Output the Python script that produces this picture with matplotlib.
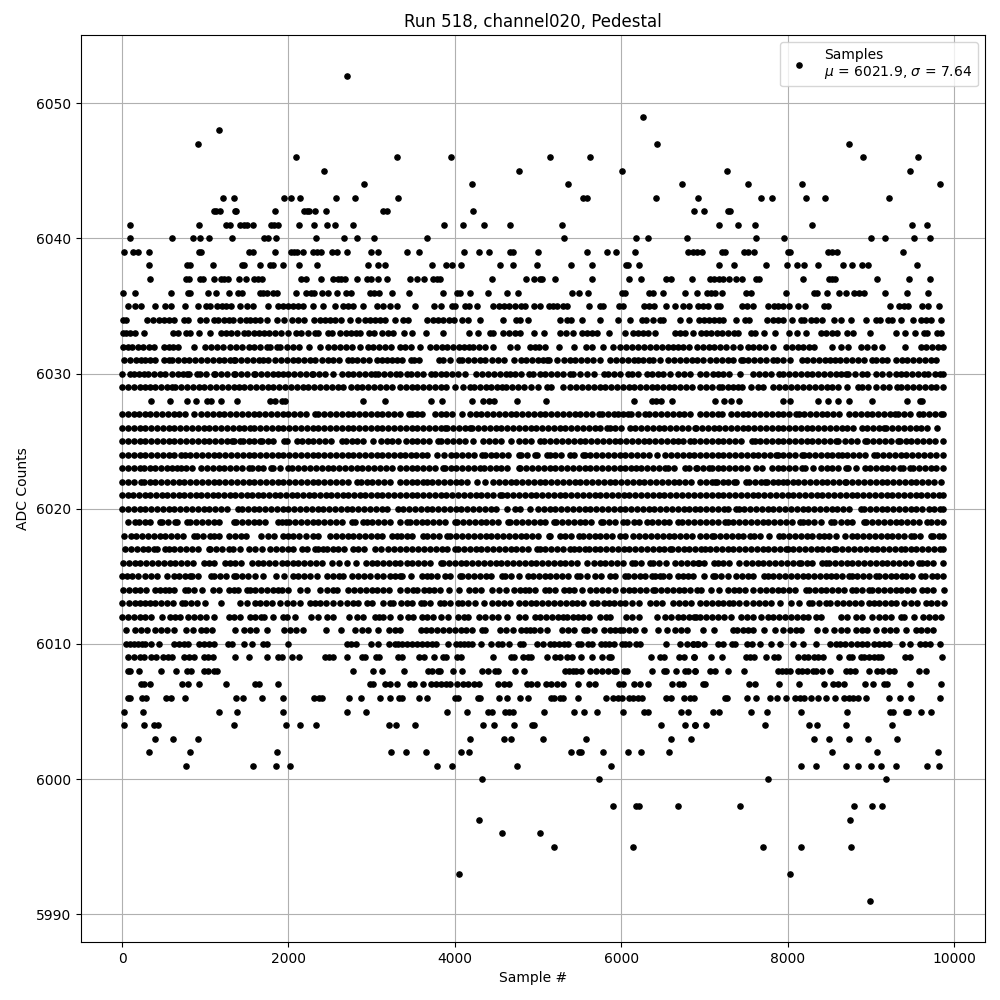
# Sample numbers are hand-read per ADC level from the reference. Dense rows cannot be
# resolved into individual samples, so they hold a representative subset of visible dots.
import numpy as np
import matplotlib
matplotlib.use("Agg")
import matplotlib.pyplot as plt

s6052=[2708]
s6049=[6268]
s6048=[1160]
s6047=[908,6436,8744]
s6046=[2096,3308,3952,5140,5620,8912,9572]
s6045=[2432,4768,6004,7268,9476]
s6044=[2912,4204,5356,6736,7520,8168,9836]
s6043=[1208,1340,1952,2036,2144,2576,2804,3320,5536,5584,6424,6928,7676,7808,8228,8456,9224]
s6042=[1100,1132,1172,1360,1372,1844,2192,2224,2252,2324,2456,3140,3188,4216,6880,6992,7280,7304]
s6041=[92,920,1252,1292,1420,1460,1500,1568,1792,1828,1872,2132,2312,2468,2564,2780,3868,4096,4348,4660,5284,7172,7400,7604,8300,9500,9680]
s6040=[92,596,848,932,1040,1316,1708,1760,1856,2336,2672,2828,3032,3664,5308,6184,6328,6796,7616,7952,9008,9176,9524,9716]
s6039=[20,128,188,320,920,952,1520,1568,1844,2036,2072,2108,2180,2300,2348,2396,2528,2588,2708,2996,3080,3424,3568,4108,4288,4408,4660,4696,4996,5584,5824,5932,6172,6808,6868,6908,6968,7208,7244,7472,7520,7592,8000,8024,8492,8540,8600,9392]
s6038=[320,776,812,1088,1436,1460,1652,1784,1816,1940,2132,2348,2960,3080,3164,3724,3892,3964,4072,4540,4696,4984,5392,5644,6064,6088,6220,7172,7352,7736,7988,8108,8204,8372,8672,8780,8900,8972,9560]
s6037=[332,764,800,932,968,1100,1184,1220,1268,1400,1484,1580,1628,1676,2156,2216,2396,2540,2600,2636,2680,2828,2948,2996,3080,3188,3460,3544,3628,3736,3784,3820,4444,4852,4948,5020,5048,5200,5644,6100,6244,6544,6604,6856,7068,7120,7172,7220,7292,7376,7448,7616,7652,8180,8504,8540,8576,9080,9464,9716]
s6036=[8,152,584,788,820,1028,1124,1280,1388,1436,1652,1700,1748,1820,1860,2096,2216,2268,2312,2408,2480,2584,2696,2756,2984,3032,3092,3248,3448,3856,4024,4060,4180,4396,4624,4756,5404,5488,5596,6004,6052,6340,6388,6508,6772,6908,7028,7076,7124,7208,7496,7556,7976,8324,8360,8480,8624,8708,8804,8864,8924,9176,9440,9692]
s6035=[68,152,224,392,512,584,752,908,1004,1052,1136,1196,1244,1304,1412,1496,1568,1760,1880,1940,2000,2060,2120,2180,2300,2420,2564,2660,2720,2780,2900,3060,3140,3224,3300,3520,3748,3832,3964,4000,4120,4168,4264,4456,4528,4588,4648,4720,4792,4840,4948,5028,5128,5176,5228,5296,5344,5608,5740,5776,5968,6028,6280,6340,6400,6544,6652,6748,6820,6924,6980,7040,7148,7184,7448,7508,7580,7760,7832,7880,7940,8012,8120,8216,8444,8492,9236,9344,9404,9452,9620,9692,9824]
s6034=[8,44,296,368,440,500,560,620,740,788,932,1004,1100,1148,1220,1280,1328,1412,1484,1540,1600,1660,1740,1868,1952,2048,2120,2192,2312,2380,2440,2500,2560,2636,2740,2840,2924,2980,3040,3100,3164,3280,3376,3436,3664,3736,3796,3856,3928,3988,4084,4156,4300,4576,4732,4780,4876,5260,5344,5392,5524,5740,5956,6112,6256,6304,6388,6472,6508,6712,6820,6932,6992,7052,7112,7172,7220,7376,7484,7532,7748,7820,7880,7940,8048,8156,8192,8288,8348,8420,8564,8648,8768,8948,9060,9116,9212,9260,9368,9512,9608,9668,9728,9848]
s6033=[8,44,92,152,260,608,668,764,812,920,1052,1184,1244,1304,1380,1460,1508,1580,1640,1712,1772,1844,1916,2000,2096,2156,2240,2324,2360,2480,2528,2624,2696,2756,2812,2864,2972,3032,3128,3200,3260,3388,3484,3652,3856,4168,4276,4420,4456,4576,4648,4720,4788,4948,5068,5260,5332,5416,5524,5588,5648,5708,5848,6052,6148,6208,6268,6328,6408,6652,6708,6772,6860,6956,7020,7080,7148,7208,7280,7352,7400,7556,7604,7712,7844,8012,8108,8228,8408,8468,8540,8600,8720,8792,8996,9308,9416,9536,9644,9680,9800,9848]
s6032=[12,66,120,192,256,320,380,508,560,612,668,860,1000,1070,1140,1212,1300,1370,1440,1520,1590,1660,1740,1780,1860,1900,1980,2060,2132,2252,2380,2480,2550,2620,2690,2760,2860,2960,3020,3090,3160,3230,3340,3400,3470,3580,3700,3770,3840,3910,3980,4050,4108,4170,4220,4288,4360,4456,4660,4744,4908,4960,5008,5080,5248,5428,5572,5644,5776,5896,5988,6060,6130,6200,6280,6348,6420,6490,6560,6620,6688,6748,6820,6908,6980,7050,7120,7190,7260,7340,7424,7520,7590,7660,7730,7820,7980,8050,8120,8190,8260,8320,8540,8640,8732,8888,8960,9044,9140,9416,9600,9670,9740,9810,9870]
s6031=[28,92,172,230,280,340,400,500,560,600,670,740,800,880,950,1020,1090,1160,1230,1300,1340,1360,1430,1500,1570,1640,1700,1760,1840,1910,1980,2050,2120,2190,2260,2320,2400,2470,2540,2610,2720,2760,2830,2900,2970,3060,3120,3180,3240,3300,3370,3468,3508,3568,3808,3860,3948,4048,4088,4160,4230,4300,4368,4448,4520,4588,4716,4796,4860,4930,5000,5060,5108,5128,5228,5308,5380,5450,5520,5590,5660,5748,5868,5940,6010,6080,6150,6208,6268,6330,6388,6468,6568,6640,6710,6780,6850,6908,6980,7068,7140,7210,7280,7350,7440,7460,7530,7600,7670,7740,7820,7868,7940,8032,8172,8240,8310,8380,8450,8510,8568,8628,8708,8780,8850,8920,9012,9060,9130,9200,9300,9372,9440,9510,9580,9650,9720,9780]
s6030=[0,92,140,200,260,308,380,450,520,600,670,730,780,810,900,940,1010,1100,1120,1190,1260,1340,1360,1430,1500,1580,1600,1670,1740,1810,1880,1940,2000,2070,2140,2210,2280,2300,2370,2440,2540,2640,2710,2780,2850,2920,2990,3040,3080,3150,3220,3290,3340,3428,3468,3540,3620,3708,3760,3830,3900,3970,4040,4128,4260,4330,4400,4470,4540,4610,4668,4728,4800,4888,4936,5020,5090,5160,5230,5300,5388,5420,5500,5588,5676,5788,5836,5910,5980,6088,6128,6200,6308,6376,6448,6508,6590,6688,6756,6830,6948,7020,7100,7160,7230,7292,7428,7588,7660,7730,7800,7900,7948,8020,8090,8160,8230,8300,8370,8440,8510,8580,8640,8700,8732,8810,8892,8960,9060,9140,9220,9308,9360,9430,9500,9570,9640,9692,9772,9830,9870]
s6029=[0,70,140,210,280,332,400,470,540,600,640,710,780,850,920,990,1060,1130,1200,1270,1340,1400,1470,1540,1610,1680,1750,1820,1890,1960,2030,2100,2170,2240,2310,2380,2450,2520,2590,2660,2748,2820,2890,2960,3030,3100,3170,3240,3340,3410,3480,3550,3620,3690,3760,3830,3900,4008,4100,4188,4236,4300,4370,4440,4510,4568,4620,4690,4760,4836,4916,4996,5108,5156,5300,5388,5460,5530,5600,5670,5740,5810,5880,5950,6020,6090,6160,6230,6300,6370,6428,6500,6570,6640,6710,6780,6850,6948,7020,7090,7180,7212,7280,7340,7400,7448,7564,7640,7710,7828,7900,7970,8040,8108,8188,8260,8330,8400,8470,8540,8610,8720,8848,8900,8972,9068,9148,9220,9320,9368,9440,9510,9580,9650,9720,9790,9870]
s6028=[344,572,776,884,1020,1068,1184,1384,1784,1844,1928,1964,2900,3164,3712,3844,4204,4336,4408,4468,4744,5092,6160,6376,6424,6484,6616,7124,7232,7316,7412,7940,8024,8372,8492,8612,8744,9020,9440,9596,9620]
s6027=[0,70,140,204,280,340,410,480,550,620,690,760,860,950,1020,1090,1160,1230,1300,1370,1440,1510,1580,1650,1720,1790,1860,1930,2000,2070,2140,2210,2320,2360,2430,2500,2570,2640,2710,2780,2850,2920,2990,3060,3130,3200,3270,3340,3448,3480,3540,3608,3756,3830,3900,3970,4088,4180,4250,4320,4390,4460,4530,4600,4670,4740,4810,4880,4950,5020,5088,5152,5228,5300,5370,5440,5510,5580,5650,5728,5768,5840,5908,5956,6020,6088,6120,6200,6288,6340,6410,6480,6550,6620,6690,6760,6830,6948,7020,7090,7160,7208,7320,7390,7460,7530,7600,7670,7740,7810,7880,7950,8020,8100,8132,8200,8270,8340,8410,8480,8550,8620,8740,8812,8880,8950,9020,9090,9160,9230,9292,9332,9400,9470,9580,9632,9700,9770,9840,9870]
s6026=[0,70,140,210,280,350,420,490,560,630,700,770,840,910,980,1050,1120,1190,1260,1330,1400,1470,1540,1590,1660,1730,1800,1870,1940,2010,2080,2150,2220,2290,2360,2430,2500,2570,2640,2710,2780,2850,2920,2990,3060,3130,3200,3270,3340,3410,3480,3550,3620,3690,3760,3830,3888,3908,3980,4050,4120,4188,4208,4280,4350,4420,4490,4560,4630,4700,4770,4840,4910,4980,5050,5120,5190,5260,5330,5400,5470,5540,5610,5680,5750,5828,5860,5930,6000,6108,6168,6240,6310,6380,6450,6520,6590,6660,6730,6800,6888,6900,6970,7040,7110,7180,7250,7320,7390,7460,7530,7600,7670,7740,7810,7880,7950,8020,8090,8160,8230,8300,8370,8440,8510,8580,8650,8720,8790,8900,8960,9030,9100,9160,9188,9260,9330,9400,9470,9540,9610,9680,9800]
s6025=[0,70,140,210,280,350,420,490,560,630,700,770,840,910,980,1050,1120,1190,1260,1320,1340,1420,1452,1520,1590,1652,1680,1750,1820,1948,1988,2108,2160,2230,2300,2370,2440,2510,2640,2688,2760,2830,2900,3020,3108,3180,3250,3320,3408,3480,3550,3620,3690,3796,3836,3910,3980,4050,4120,4220,4340,4410,4480,4560,4676,4772,4840,4910,5028,5076,5150,5220,5290,5360,5430,5500,5570,5640,5710,5780,5850,5920,5990,6060,6130,6200,6270,6340,6410,6480,6550,6620,6688,6748,6828,6880,6950,7020,7090,7160,7230,7300,7370,7440,7568,7604,7670,7740,7810,7880,7950,8020,8090,8160,8230,8300,8370,8440,8510,8580,8612,8690,8760,8830,8928,8960,9030,9100,9170,9240,9332,9348,9420,9490,9560,9630,9700,9770,9870]
s6024=[0,70,140,210,280,350,420,490,560,630,712,752,820,890,960,1030,1100,1170,1240,1310,1380,1450,1520,1590,1660,1730,1800,1870,1940,2010,2080,2150,2220,2290,2360,2430,2500,2570,2640,2710,2780,2850,2920,2990,3060,3130,3200,3270,3340,3400,3476,3532,3600,3670,3780,3876,3950,4020,4090,4160,4230,4328,4360,4430,4500,4570,4640,4768,4796,4870,4968,4988,5108,5140,5210,5280,5380,5428,5540,5560,5630,5700,5770,5840,5910,5980,6050,6120,6190,6260,6330,6428,6532,6600,6670,6740,6810,6880,6948,7020,7090,7160,7230,7300,7370,7440,7510,7580,7650,7720,7790,7860,7880,7950,8020,8090,8172,8192,8260,8330,8400,8470,8540,8608,8652,8720,8790,8860,8930,9040,9080,9150,9220,9290,9360,9430,9500,9570,9640,9710,9780,9870]
s6023=[0,70,140,212,260,330,400,470,540,600,660,704,770,840,948,1020,1090,1160,1230,1300,1370,1440,1528,1560,1630,1700,1788,1820,1900,2000,2048,2120,2190,2260,2330,2400,2470,2540,2610,2680,2750,2820,2890,2960,3030,3100,3170,3240,3340,3410,3480,3550,3620,3690,3760,3860,3880,3950,4020,4090,4160,4230,4300,4348,4420,4490,4560,4630,4768,4788,4860,4930,5000,5070,5140,5210,5280,5350,5420,5490,5560,5630,5700,5770,5840,5910,5980,6050,6120,6176,6240,6310,6380,6450,6528,6568,6640,6768,6820,6900,6908,6980,7060,7092,7160,7230,7300,7370,7440,7510,7620,7688,7808,7880,7950,8020,8090,8172,8216,8312,8400,8470,8540,8610,8700,8732,8820,8928,8988,9060,9130,9200,9270,9352,9388,9468,9512,9580,9650,9720,9790,9870]
s6022=[0,70,140,228,260,330,400,470,540,610,680,750,820,890,960,1030,1100,1170,1240,1310,1380,1450,1520,1590,1660,1730,1800,1870,1940,2010,2080,2150,2220,2290,2360,2430,2500,2570,2640,2710,2820,2868,2940,3010,3080,3150,3220,3340,3410,3480,3550,3620,3660,3730,3800,3870,3940,4010,4080,4150,4268,4360,4456,4528,4600,4670,4740,4810,4880,4950,5020,5090,5160,5230,5300,5370,5440,5510,5580,5650,5720,5790,5860,5930,6000,6070,6140,6210,6280,6350,6420,6490,6560,6630,6700,6770,6840,6948,7020,7090,7132,7148,7220,7290,7360,7380,7500,7540,7610,7680,7732,7748,7820,7890,7948,7988,8060,8130,8200,8270,8340,8410,8480,8550,8620,8692,8708,8780,8850,8920,8990,9060,9130,9200,9270,9340,9410,9480,9550,9620,9690,9760,9840]
s6021=[0,68,136,204,272,340,408,476,544,612,680,748,816,884,952,1020,1088,1156,1224,1292,1360,1428,1496,1564,1632,1700,1768,1836,1904,1972,2040,2108,2176,2244,2312,2380,2448,2516,2584,2652,2720,2788,2856,2924,2992,3060,3128,3196,3264,3340,3410,3480,3550,3620,3690,3760,3830,3900,3970,4040,4110,4180,4250,4320,4390,4460,4540,4564,4630,4700,4770,4840,4910,4980,5050,5120,5190,5260,5330,5400,5470,5540,5610,5680,5750,5820,5890,5960,6030,6100,6170,6240,6310,6380,6450,6520,6590,6660,6730,6800,6870,6948,7020,7090,7160,7230,7300,7370,7440,7510,7580,7650,7720,7790,7860,7930,8000,8070,8140,8210,8280,8350,8420,8490,8560,8630,8700,8770,8840,8910,8980,9050,9120,9190,9260,9330,9400,9470,9540,9610,9680,9750,9820,9870]
s6020=[0,70,140,210,280,350,420,490,560,630,700,770,840,910,980,1050,1120,1190,1260,1388,1436,1510,1580,1650,1720,1790,1860,1930,2000,2070,2140,2210,2280,2350,2420,2490,2560,2630,2708,2768,2840,2910,2980,3050,3120,3190,3312,3380,3450,3520,3590,3660,3730,3800,3870,3940,4010,4080,4150,4220,4290,4360,4430,4500,4628,4720,4788,4900,4996,5070,5140,5210,5280,5350,5420,5490,5560,5630,5700,5770,5840,5910,5980,6050,6120,6190,6260,6330,6400,6470,6540,6610,6680,6750,6820,6890,6948,7020,7090,7160,7240,7280,7380,7412,7480,7550,7620,7690,7760,7830,7900,7970,8040,8110,8180,8250,8320,8390,8460,8530,8600,8670,8740,8880,8920,8990,9060,9130,9200,9270,9340,9410,9480,9550,9620,9700,9760,9830,9870]
s6019=[68,160,200,270,340,452,480,550,640,660,780,820,890,960,1030,1100,1170,1340,1372,1440,1510,1580,1650,1720,1880,1920,1972,2012,2080,2150,2220,2290,2360,2430,2500,2570,2640,2760,2800,2892,2940,3010,3080,3150,3220,3340,3420,3460,3530,3600,3670,3740,3810,3880,4008,4028,4100,4170,4240,4310,4380,4450,4520,4636,4668,4740,4810,4880,4950,5020,5090,5196,5220,5290,5360,5430,5500,5570,5640,5756,5780,5850,5920,6028,6076,6150,6220,6308,6368,6440,6510,6580,6688,6728,6800,6870,6948,7020,7090,7160,7252,7280,7350,7420,7490,7560,7630,7700,7770,7840,7910,7980,8050,8152,8180,8250,8320,8400,8520,8564,8640,8710,8780,8920,8948,9020,9090,9160,9230,9300,9370,9440,9510,9580,9680,9728,9800,9870]
s6018=[28,112,172,240,310,380,450,520,590,660,730,860,900,970,1060,1100,1170,1280,1360,1430,1492,1668,1760,1830,1940,2000,2060,2132,2212,2300,2360,2500,2572,2640,2710,2780,2850,2920,2990,3060,3130,3240,3308,3348,3420,3490,3620,3668,3740,3810,3908,3948,4020,4090,4160,4230,4300,4370,4440,4510,4580,4650,4720,4790,4860,4930,5000,5128,5148,5268,5328,5400,5488,5540,5610,5680,5750,5820,5890,5988,6048,6148,6220,6290,6360,6430,6500,6570,6640,6710,6780,6850,6948,7020,7092,7120,7190,7260,7330,7400,7470,7548,7600,7670,7780,7892,7948,8020,8090,8160,8230,8300,8380,8444,8500,8588,8688,8772,8840,8910,8980,9050,9120,9190,9260,9330,9400,9480,9520,9590,9720,9752,9820,9870]
s6017=[32,108,180,250,310,380,420,520,560,630,700,770,840,910,1040,1060,1130,1200,1280,1328,1412,1520,1600,1676,1780,1850,1920,1990,2060,2160,2228,2320,2360,2412,2460,2530,2600,2670,2780,2840,2910,3040,3112,3200,3270,3340,3410,3488,3560,3630,3700,3770,3840,3910,4008,4036,4110,4180,4250,4320,4390,4460,4530,4600,4670,4740,4810,4880,4988,5020,5090,5160,5230,5300,5388,5428,5488,5568,5608,5680,5750,5820,5890,5960,6030,6100,6170,6240,6310,6380,6450,6520,6588,6608,6680,6750,6820,6890,6960,7008,7068,7140,7210,7280,7350,7420,7490,7560,7630,7700,7770,7840,7910,7980,8000,8070,8140,8210,8280,8350,8420,8490,8560,8588,8660,8730,8800,8870,8940,9010,9080,9150,9220,9290,9360,9412,9480,9550,9620,9690,9760,9830,9870]
s6016=[12,80,150,220,288,360,430,500,570,640,710,780,850,980,1040,1110,1240,1292,1360,1430,1560,1628,1700,1770,1840,1920,1980,2050,2120,2190,2260,2330,2400,2520,2612,2708,2812,2932,3000,3070,3140,3210,3280,3340,3420,3488,3560,3630,3700,3828,3856,3930,4000,4070,4140,4210,4280,4350,4420,4490,4560,4630,4700,4770,4840,4910,4980,5050,5120,5190,5260,5330,5400,5470,5588,5668,5740,5810,5880,5950,6020,6128,6168,6240,6348,6388,6460,6540,6648,6720,6790,6860,6928,6940,7000,7120,7160,7230,7300,7412,7500,7568,7640,7710,7780,7850,7920,7990,8060,8140,8160,8230,8300,8420,8460,8500,8570,8640,8710,8780,8850,8920,8990,9060,9130,9200,9270,9340,9410,9480,9580,9612,9680,9750,9868]
s6015=[0,60,120,188,272,348,420,540,620,688,760,820,840,910,1068,1108,1180,1250,1340,1372,1440,1508,1600,1692,1852,1952,2060,2120,2190,2260,2340,2460,2540,2610,2660,2768,2840,2910,2980,3068,3140,3220,3280,3340,3368,3468,3608,3668,3716,3788,3888,3940,4060,4088,4160,4230,4300,4370,4440,4568,4608,4680,4768,4876,4936,5010,5080,5150,5220,5290,5360,5468,5508,5584,5688,5760,5860,5930,6048,6088,6160,6228,6288,6368,6408,6468,6508,6580,6688,6748,6800,6868,7000,7100,7132,7200,7280,7376,7452,7520,7590,7720,7760,7830,7900,7970,8040,8110,8180,8250,8320,8390,8468,8528,8580,8660,8740,8772,8840,8910,8980,9060,9100,9170,9240,9310,9380,9428,9500,9600,9648,9732,9800,9870]
s6014=[12,80,150,220,290,400,452,520,560,630,752,788,860,960,1092,1160,1280,1340,1388,1500,1532,1600,1670,1740,1810,1880,1928,2000,2140,2220,2380,2460,2540,2580,2720,2790,2860,2930,3000,3070,3140,3210,3340,3420,3500,3548,3628,3688,3748,3820,3928,4048,4168,4240,4310,4448,4528,4612,4708,4780,4848,4888,4960,5088,5128,5200,5308,5368,5428,5524,5628,5700,5768,5840,5928,6016,6090,6160,6230,6300,6388,6408,6480,6550,6620,6690,6760,6830,6908,6960,7080,7172,7280,7352,7420,7490,7588,7668,7740,7810,7880,7950,8020,8090,8220,8260,8330,8400,8468,8540,8610,8680,8780,8820,8900,8980,9020,9090,9160,9230,9300,9370,9440,9510,9620,9680,9750,9880]
s6013=[0,80,150,210,280,340,400,470,540,610,720,760,830,900,1000,1184,1420,1500,1592,1660,1730,1800,1900,1980,2060,2144,2260,2320,2380,2450,2540,2620,2700,2780,2840,2940,3000,3140,3220,3260,3348,3420,3490,3588,3628,3700,3820,3868,3940,4036,4088,4160,4248,4348,4448,4520,4590,4668,4768,4840,4910,4980,5050,5120,5188,5268,5340,5408,5468,5540,5648,5708,5788,5848,5908,5980,6048,6128,6220,6348,6420,6488,6628,6700,6770,6840,6948,7020,7090,7160,7230,7300,7340,7420,7500,7588,7660,7730,7800,7908,8040,8140,8260,8300,8380,8460,8512,8600,8670,8740,8810,8880,8980,9040,9100,9170,9240,9310,9400,9480,9560,9668,9720,9800,9880]
s6012=[0,70,140,210,280,350,480,580,640,700,788,868,940,1012,1100,1280,1350,1420,1540,1600,1668,1708,1812,1940,1980,2084,2276,2360,2460,2540,2732,2828,2900,3040,3092,3140,3220,3340,3436,3500,3608,3670,3740,3832,3916,4036,4108,4156,4288,4360,4448,4516,4628,4768,4848,4960,5030,5100,5170,5240,5300,5348,5420,5476,5540,5608,5748,5820,5868,6060,6136,6220,6436,6528,6600,6688,6748,6820,6900,6880,6950,7020,7090,7160,7232,7316,7440,7510,7580,7680,7760,7830,7900,7970,8040,8110,8180,8250,8340,8400,8640,8720,8820,8890,9012,9100,9170,9240,9360,9400,9520,9632,9700,9770,9840]
s6011=[44,160,230,300,400,470,540,620,764,848,948,1010,1080,1360,1460,1532,1604,1748,1952,2020,2090,2180,2456,2636,2800,2880,2960,3080,3212,3280,3340,3588,3648,3716,3790,3860,3930,4000,4070,4140,4210,4328,4360,4548,4620,4700,4796,4860,4908,4948,5020,5108,5288,5360,5430,5548,5588,5668,5788,5860,5930,5988,6028,6100,6172,6280,6448,6548,6648,6720,6788,6980,7112,7340,7388,7460,7520,7580,7712,7852,7940,8028,8100,8160,8360,8452,8564,8640,8720,8820,8890,8960,9060,9160,9230,9300,9420,9540,9610,9680,9752]
s6010=[44,92,140,188,236,280,344,440,620,680,740,788,920,980,1040,1100,1268,1316,1460,1556,1700,1740,2000,2708,2756,2816,2996,3080,3212,3280,3320,3368,3420,3480,3540,3600,3660,3720,3770,3916,4012,4060,4110,4160,4208,4312,4432,4516,4564,4648,4780,4816,4984,5056,5140,5188,5248,5308,5356,5476,5512,5596,5644,5752,5800,5848,5908,6004,6052,6100,6184,6232,6544,6712,6796,6868,6916,6860,6920,6992,7160,7220,7328,7364,7508,7568,7664,7796,7904,8064,8180,8348,8516,8588,8636,8696,8768,8840,8900,8960,9044,9100,9160,9220,9380,9476,9596,9656,9716,9836]
s6009=[68,140,212,260,344,404,488,548,596,740,800,860,980,1028,1088,1352,1520,1748,1880,1924,2048,2132,2444,2492,2540,2708,2888,2924,3056,3092,3320,3368,3568,3628,3748,3856,3892,4024,4072,4456,4672,4708,4816,4876,4912,5104,5200,5260,5344,5404,5512,5644,5764,5848,5872,6364,6472,6520,6700,6760,6880,6872,7076,7208,7496,7544,7592,7736,7832,7880,8120,8192,8252,8324,8372,8432,8624,8744,8780,8888,8924,8984,9044,9092,9128,9416,9476,9860]
s6008=[68,100,200,464,644,776,824,980,1028,1100,1136,2780,3020,3128,3388,3676,3724,3796,3820,3976,4084,4324,4396,4480,4516,4720,4828,5320,5368,5416,5452,5512,5620,5692,5764,5836,5908,5932,6040,6076,6376,6520,6544,6664,6772,6808,6892,6884,7064,7124,7280,7472,7880,7928,7980,8024,8120,8168,8240,8312,8348,8420,8516,8708,8756,8816,8984,9080,9140,9224,9284,9584,9668]
s6007=[224,260,332,716,788,920,1244,1592,1640,1880,2984,3020,3164,3224,3308,3460,3508,3616,3712,3772,3832,3892,3940,4024,4096,4156,4228,4288,4516,4588,4648,4864,4912,4984,5092,5152,5224,5296,5476,5608,5680,5968,6028,6160,6232,6328,6616,6700,6748,6980,7004,7532,7604,7892,8132,8444,8552,8612,8684,8936,9032,9164,9200,9476,9848]
s6006=[68,100,236,284,524,584,752,1364,1448,1676,1940,2312,2372,2408,2732,2876,3104,3224,3332,3368,3568,3664,4000,4036,4276,4300,4528,4624,4780,4876,5152,5188,5260,5296,5476,5812,5896,5956,6004,6100,6148,6208,6256,6544,6604,6760,6832,6880,7244,7268,7508,7616,7784,7868,7976,8084,8144,8204,8288,8372,8468,8576,8684,8740,8792,8852,8948,9224,9356,9488,9836]
s6005=[20,248,1160,1376,1940,2708,2936,3904,4144,4396,4444,4600,4648,4696,5068,5428,5548,5704,6028,6280,6328,6724,6808,7100,7172,7556,7748,8156,8720,9236,9272,9428,9452,9608,9728]
s6004=[20,260,380,428,1340,1976,2144,2336,3212,3296,3520,4336,4468,4708,4924,4948,6484,6772,6892,6884,7016,7724,8264,8360,8708,9260]
s6003=[392,608,908,4180,4588,4672,5056,5572,6604,6844,8324,8504,8744,8972,9320]
s6002=[320,812,1868,3236,3412,3652,4072,4168,5392,5488,5512,5776,6088,6244,6580,8540,9080,9812]
s6001=[764,1568,1856,2024,3784,3964,4744,5872,8156,8348,8708,8852,9008,9128,9308,9680,9824]
s6000=[4324,5728,7760,9188]
s5998=[5896,6184,6220,6688,7424,8804,9020,9140]
s5997=[4288,8756]
s5996=[4564,5020]
s5995=[5188,6148,7700,8156,8768]
s5993=[4048,8024]
s5991=[8996]

levels=[(6052,s6052),(6049,s6049),(6048,s6048),(6047,s6047),(6046,s6046),(6045,s6045),(6044,s6044),(6043,s6043),
(6042,s6042),(6041,s6041),(6040,s6040),(6039,s6039),(6038,s6038),(6037,s6037),(6036,s6036),(6035,s6035),(6034,s6034),
(6033,s6033),(6032,s6032),(6031,s6031),(6030,s6030),(6029,s6029),(6028,s6028),(6027,s6027),(6026,s6026),(6025,s6025),
(6024,s6024),(6023,s6023),(6022,s6022),(6021,s6021),(6020,s6020),(6019,s6019),(6018,s6018),(6017,s6017),(6016,s6016),
(6015,s6015),(6014,s6014),(6013,s6013),(6012,s6012),(6011,s6011),(6010,s6010),(6009,s6009),(6008,s6008),(6007,s6007),
(6006,s6006),(6005,s6005),(6004,s6004),(6003,s6003),(6002,s6002),(6001,s6001),(6000,s6000),(5998,s5998),(5997,s5997),
(5996,s5996),(5995,s5995),(5993,s5993),(5991,s5991)]

x=np.concatenate([np.asarray(s,dtype=float) for _,s in levels])
y=np.concatenate([np.full(len(s),lv,dtype=float) for lv,s in levels])

fig,ax=plt.subplots(figsize=(10,10),dpi=100)
ax.plot(x,y,'k.',ms=7.5,label="Samples\n$\\mu$ = 6021.9, $\\sigma$ = 7.64")
ax.set_title("Run 518, channel020, Pedestal")
ax.set_xlabel("Sample #")
ax.set_ylabel("ADC Counts")
ax.grid(True)
ax.legend(loc="upper right")
fig.subplots_adjust(left=0.081,right=0.985,top=0.965,bottom=0.058)
fig.savefig("out.png",dpi=100)
